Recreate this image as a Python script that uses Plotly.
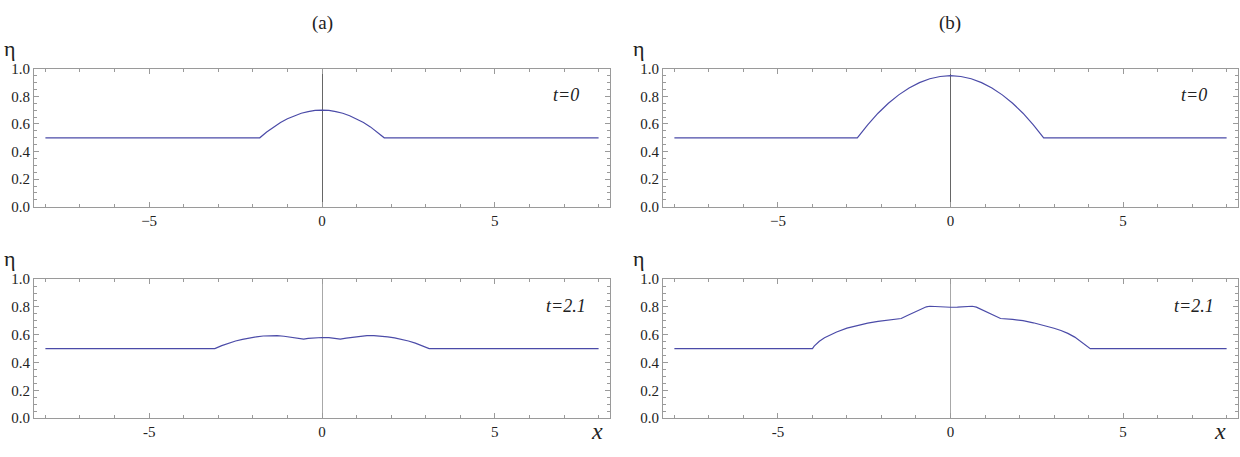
import plotly.graph_objects as go

# ---------------- data ----------------
# panel (a), t = 0
x_a0 = [-8, -1.8, -1.6, -1.4, -1.2, -1.0, -0.8, -0.6, -0.4, -0.2, 0,
        0.2, 0.4, 0.6, 0.8, 1.0, 1.2, 1.4, 1.6, 1.8, 8]
eta_a0 = [0.5, 0.5, 0.542, 0.579, 0.611, 0.638, 0.660, 0.678, 0.690, 0.698, 0.700,
          0.698, 0.690, 0.678, 0.660, 0.638, 0.611, 0.579, 0.542, 0.5, 0.5]

# panel (b), t = 0
x_b0 = [-8, -2.7, -2.4, -2.1, -1.8, -1.5, -1.2, -0.9, -0.6, -0.3, 0,
        0.3, 0.6, 0.9, 1.2, 1.5, 1.8, 2.1, 2.4, 2.7, 8]
eta_b0 = [0.5, 0.5, 0.594, 0.678, 0.750, 0.811, 0.861, 0.900, 0.928, 0.944, 0.950,
          0.944, 0.928, 0.900, 0.861, 0.811, 0.750, 0.678, 0.594, 0.5, 0.5]

# panel (a), t = 2.1
x_a1 = [-8, -3.1, -2.9, -2.7, -2.5, -2.3, -2.1, -1.9, -1.7, -1.5, -1.3, -1.1, -0.9,
        -0.7, -0.53, -0.4, -0.2, 0, 0.2, 0.4, 0.53, 0.7, 0.9, 1.1, 1.3, 1.5, 1.7,
        1.9, 2.1, 2.3, 2.5, 2.7, 2.9, 3.1, 8]
eta_a1 = [0.5, 0.5, 0.522, 0.540, 0.555, 0.567, 0.577, 0.585, 0.591, 0.594, 0.593,
          0.589, 0.583, 0.576, 0.569, 0.574, 0.579, 0.580, 0.579, 0.574, 0.569,
          0.576, 0.583, 0.589, 0.593, 0.594, 0.591, 0.585, 0.577, 0.567, 0.555,
          0.540, 0.522, 0.5, 0.5]

# panel (b), t = 2.1
x_b1 = [-8, -4.0, -3.95, -3.9, -3.8, -3.65, -3.5, -3.3, -3.0, -2.7, -2.4, -2.1, -1.8,
        -1.43, -1.25, -1.05, -0.85, -0.7, -0.6, -0.4, -0.2, 0, 0.2, 0.4, 0.63, 0.75,
        0.9, 1.1, 1.3, 1.45, 1.8, 2.1, 2.4, 2.7, 3.0, 3.2, 3.4, 3.6, 3.75, 3.9, 3.98,
        4.05, 8]
eta_b1 = [0.5, 0.5, 0.518, 0.532, 0.553, 0.578, 0.598, 0.620, 0.648, 0.668, 0.684,
          0.696, 0.706, 0.717, 0.738, 0.762, 0.787, 0.801, 0.805, 0.802, 0.799, 0.798,
          0.799, 0.802, 0.805, 0.799, 0.782, 0.757, 0.733, 0.717, 0.710, 0.701,
          0.686, 0.668, 0.647, 0.631, 0.610, 0.583, 0.556, 0.525, 0.512, 0.5, 0.5]

panel_titles = ["(a)", "(b)"]
time_labels = ["t=0", "t=2.1"]
x_ticks = [-5, 0, 5]
y_ticks = [0.0, 0.2, 0.4, 0.6, 0.8, 1.0]

# ---------------- figure ----------------
W, H = 1240, 457
LINE = "#4b4ba8"
FRAME = "#9a9a9a"
SERIF = "Liberation Serif, Times New Roman, serif"
TXT = "#222222"

fig = go.Figure()

panels = [
    (x_a0, eta_a0, 1, (34, 610), (63, 206), "#666666", ["−5", "0", "5"], time_labels[0]),
    (x_b0, eta_b0, 2, (663, 1238), (63, 206), "#666666", ["−5", "0", "5"], time_labels[0]),
    (x_a1, eta_a1, 3, (34, 610), (281, 425), "#a8a8a8", ["-5", "0", "5"], time_labels[1]),
    (x_b1, eta_b1, 4, (663, 1238), (281, 425), "#a8a8a8", ["-5", "0", "5"], time_labels[1]),
]


def note(x, y, text, size, xref="paper", yref="paper"):
    fig.add_annotation(xref=xref, yref=yref, x=x, y=y, text=text, showarrow=False,
                       xanchor="center", yanchor="middle",
                       font=dict(family=SERIF, size=size, color=TXT))


for xs, ys, k, (px0, px1), (py0, py1), zc, ttext, tlab in panels:
    sfx = "" if k == 1 else str(k)
    fig.add_trace(go.Scatter(x=xs, y=ys, mode="lines",
                             line=dict(color=LINE, width=1.2),
                             xaxis="x" + sfx, yaxis="y" + sfx,
                             showlegend=False, hoverinfo="skip"))
    xdom = [px0 / W, px1 / W]
    ydom = [1 - py1 / H, 1 - py0 / H]
    common = dict(showline=True, linecolor=FRAME, linewidth=1, mirror="ticks",
                  ticks="inside", tickcolor=FRAME, tickwidth=1, showgrid=False,
                  tickfont=dict(family=SERIF, size=15, color=TXT))
    fig.layout["xaxis" + sfx] = dict(
        domain=xdom, range=[-8.33, 8.33], anchor="y" + sfx,
        tickvals=x_ticks, ticktext=ttext, ticklen=5,
        minor=dict(ticks="inside", dtick=1, ticklen=3, tickcolor=FRAME),
        zeroline=True, zerolinecolor=zc, zerolinewidth=1, **common)
    fig.layout["yaxis" + sfx] = dict(
        domain=ydom, range=[0, 1], anchor="x" + sfx,
        tickvals=y_ticks, tickformat=".1f", ticklen=5,
        minor=dict(ticks="inside", dtick=0.05, ticklen=3, tickcolor=FRAME),
        zeroline=False, **common)
    note(7.05, 0.81, "<i>" + tlab + "</i>", 18, "x" + sfx, "y" + sfx)
    # eta label above the frame, left of the tick labels
    note((px0 - 24) / W, 1 - (py0 - 21) / H, "η", 22)

# x labels beside the bottom tick labels
for px in (597, 1220):
    note(px / W, 1 - 438 / H, "<i>x</i>", 24)

# panel titles
for px, t in zip((322.5, 950), panel_titles):
    note(px / W, 1 - 16 / H, t, 19)

fig.update_layout(width=W, height=H, margin=dict(l=0, r=0, t=0, b=0),
                  paper_bgcolor="white", plot_bgcolor="white",
                  font=dict(family=SERIF, color=TXT))

fig.write_html("out.html")
